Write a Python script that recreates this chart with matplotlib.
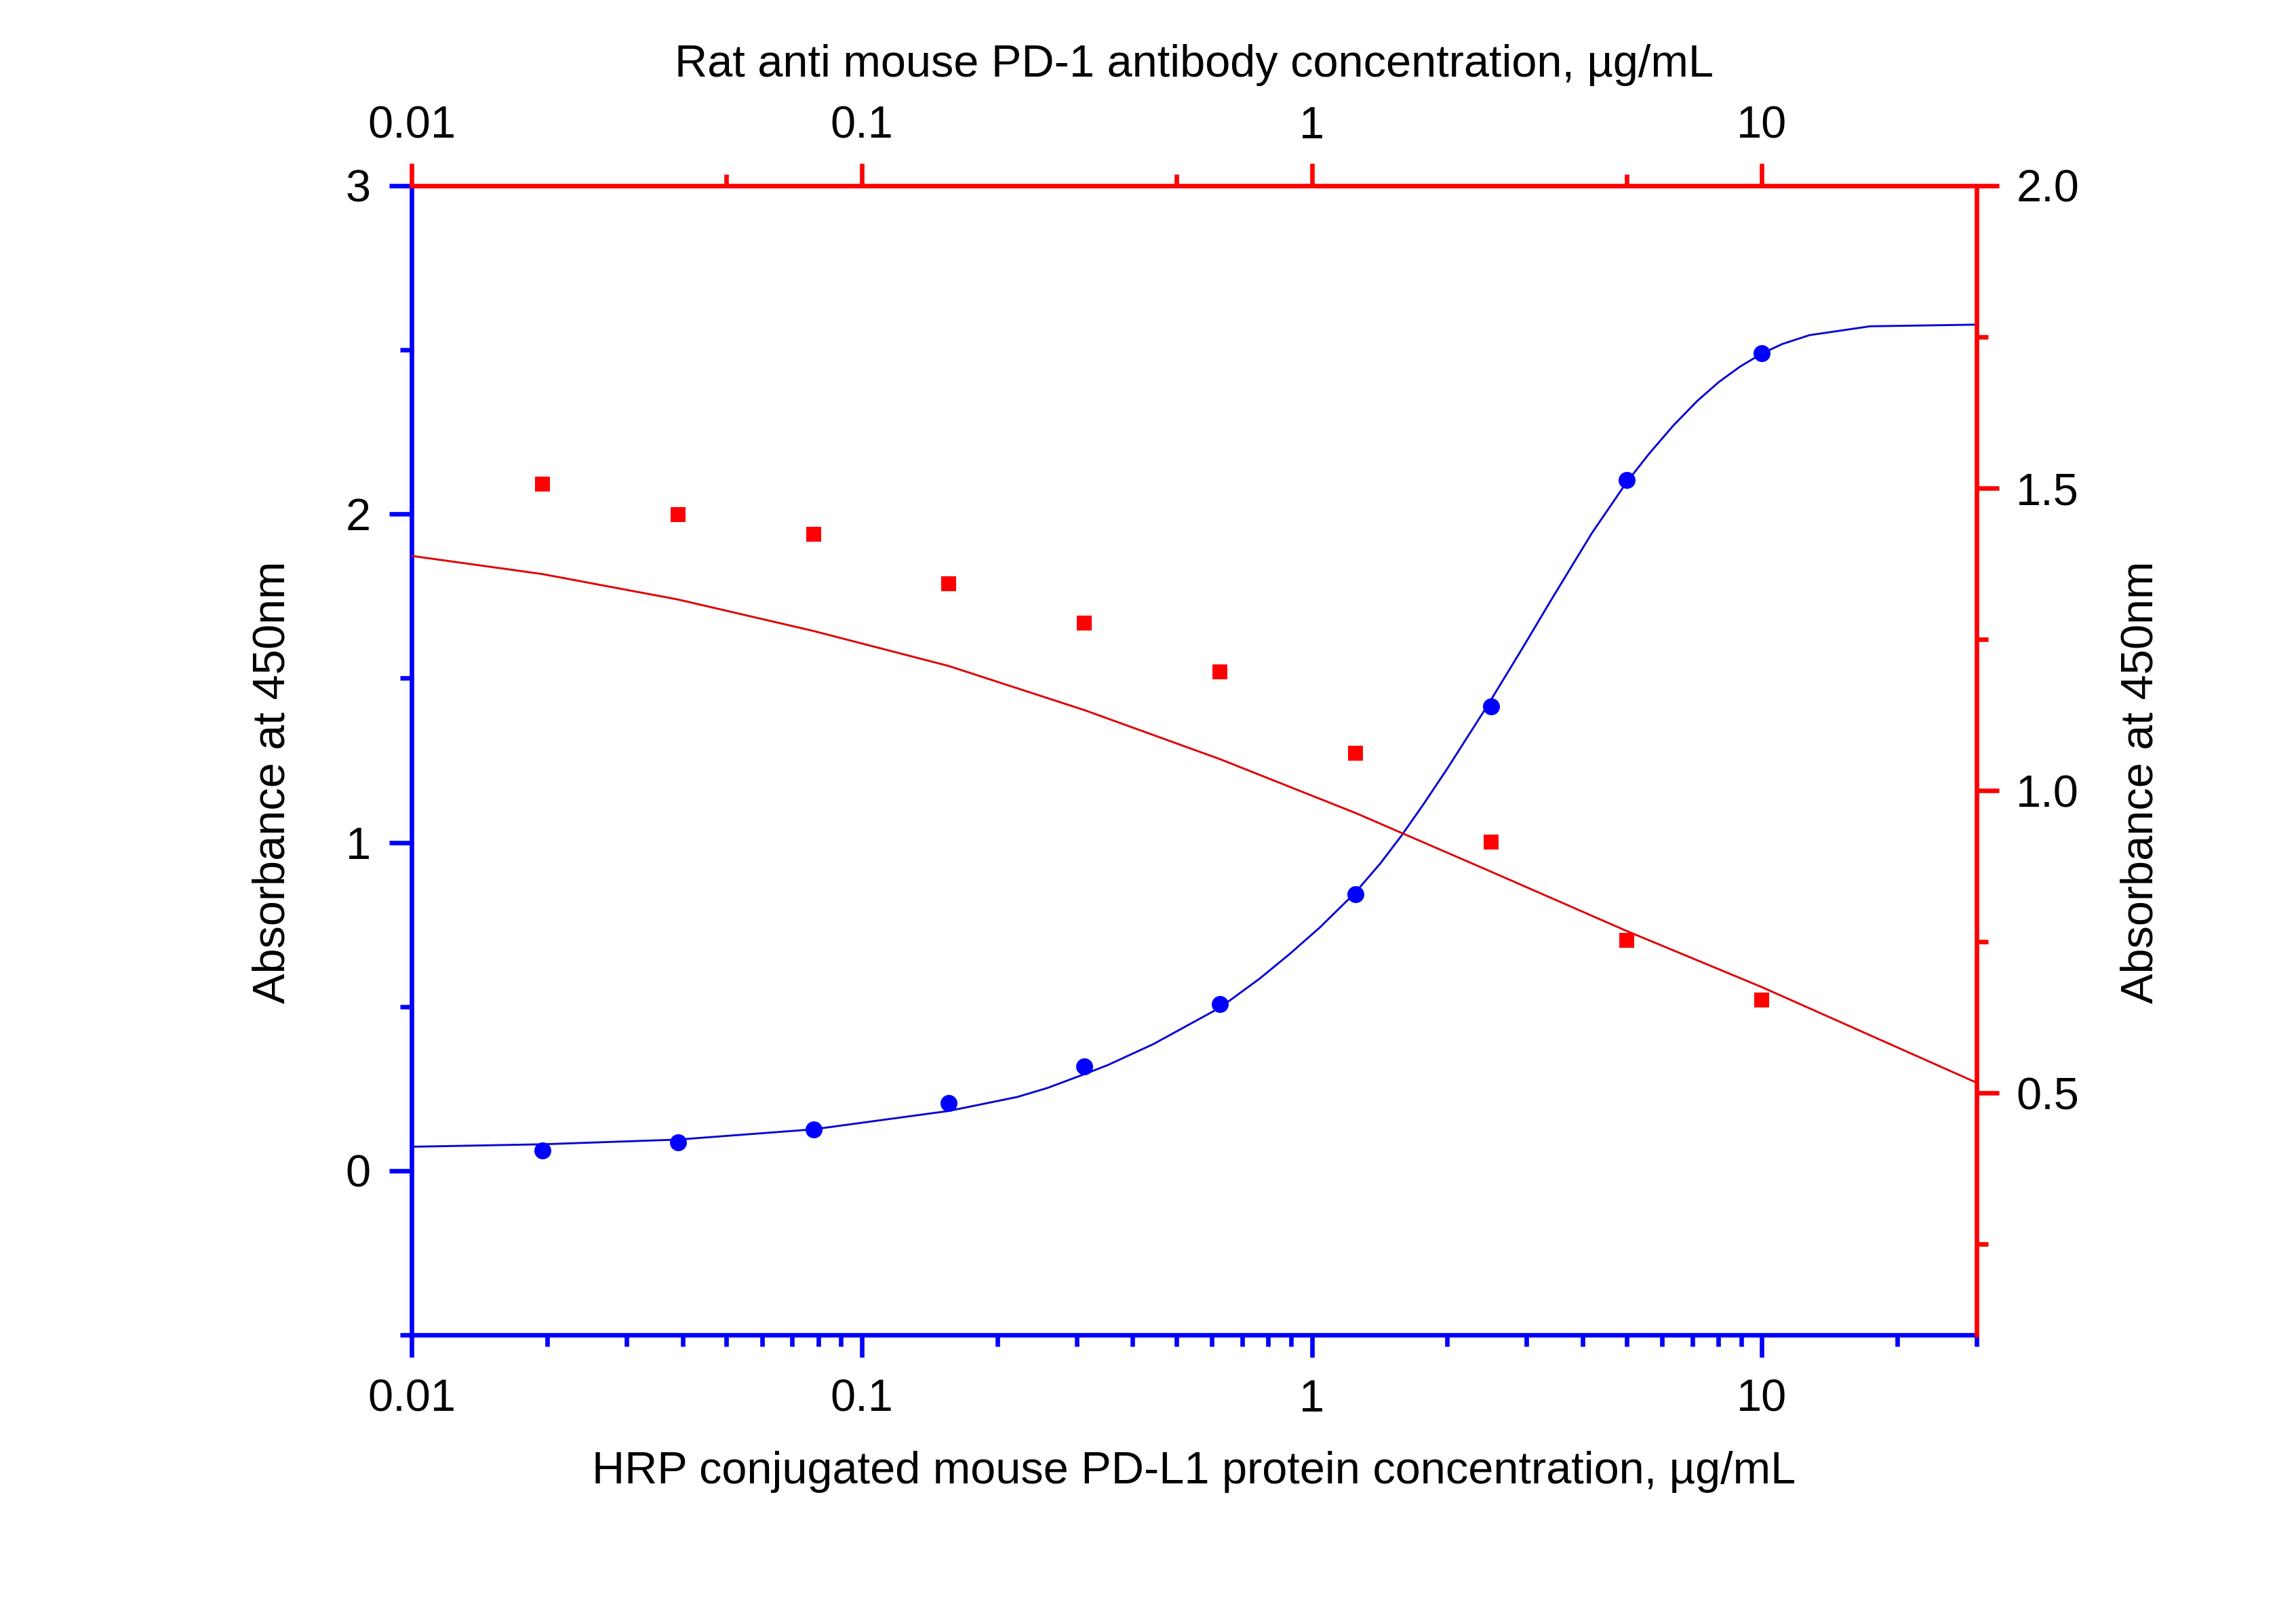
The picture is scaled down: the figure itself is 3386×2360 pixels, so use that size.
import matplotlib

matplotlib.use("Agg")
import matplotlib.pyplot as plt
from matplotlib.ticker import FixedLocator, FixedFormatter, LogLocator, NullFormatter

plt.rcParams["font.family"] = ["Liberation Sans", "DejaVu Sans"]

# two-fold dilution series, ug/mL
conc = [0.01953, 0.03906, 0.07813, 0.15625, 0.3125, 0.625, 1.25, 2.5, 5, 10]
pdl1_od = [0.062, 0.087, 0.126, 0.207, 0.318, 0.508, 0.843, 1.414, 2.103, 2.490]
pd1_od = [1.507, 1.456, 1.424, 1.342, 1.277, 1.196, 1.062, 0.915, 0.752, 0.654]

# fitted curves
pdl1_fit_x = [0.01, 0.0195, 0.039, 0.078, 0.156, 0.2214, 0.2585, 0.3117, 0.3524, 0.4446,
              0.6245, 0.764, 0.8926, 1.042, 1.245, 1.42, 1.583, 1.764, 1.996, 2.46,
              2.93, 3.422, 4.186, 5, 5.617, 6.36, 7.19, 8.02, 8.94, 10,
              11.1, 12.76, 17.4, 30]
pdl1_fit_y = [0.073, 0.0805, 0.0948, 0.126, 0.182, 0.2245, 0.252, 0.2936, 0.322, 0.3857,
              0.4964, 0.584, 0.660, 0.741, 0.845, 0.936, 1.021, 1.113, 1.223, 1.418,
              1.589, 1.744, 1.941, 2.096, 2.184, 2.270, 2.345, 2.402, 2.449, 2.489,
              2.518, 2.545, 2.572, 2.577]
pd1_fit_x = [0.01, 0.0195, 0.039, 0.078, 0.156, 0.3125, 0.625, 1.25, 2.5, 5, 10, 30]
pd1_fit_y = [1.388, 1.358, 1.316, 1.264, 1.206, 1.133, 1.052, 0.963, 0.866, 0.768, 0.675, 0.517]

x_major = [0.01, 0.1, 1, 10]
x_major_labels = ["0.01", "0.1", "1", "10"]
top_minor = [0.05, 0.5, 5]
left_major = [0, 1, 2, 3]
left_minor = [-0.5, 0.5, 1.5, 2.5]
right_major = [0.5, 1.0, 1.5, 2.0]
right_minor = [0.25, 0.75, 1.25, 1.75]

BLUE = "#0000ff"
BLUE_LINE = "#0808d0"
RED = "#ff0000"
RED_LINE = "#e00000"
FS = 16
LW = 1.6

fig = plt.figure(figsize=(3386 / 300, 2360 / 300), dpi=300)
ax = fig.add_axes([0.1793, 0.1657, 0.6816, 0.7182])
ax2 = ax.twinx()
ax_top = ax.twiny()

# bottom / left axis: PD-L1 binding
ax.set_xscale("log")
ax.set_xlim(0.01, 30)
ax.set_ylim(-0.5, 3)
ax.plot(pdl1_fit_x, pdl1_fit_y, "-", color=BLUE_LINE, linewidth=0.7, zorder=2)
ax.plot(conc, pdl1_od, "o", color=BLUE, markersize=6, markeredgewidth=0, zorder=3)
ax.xaxis.set_major_locator(FixedLocator(x_major))
ax.xaxis.set_major_formatter(FixedFormatter(x_major_labels))
ax.xaxis.set_minor_locator(LogLocator(base=10, subs=range(2, 10)))
ax.xaxis.set_minor_formatter(NullFormatter())
ax.yaxis.set_major_locator(FixedLocator(left_major))
ax.yaxis.set_major_formatter(FixedFormatter([str(v) for v in left_major]))
ax.yaxis.set_minor_locator(FixedLocator(left_minor))
for side in ["top", "right"]:
    ax.spines[side].set_visible(False)
for side in ["left", "bottom"]:
    ax.spines[side].set_color(BLUE)
    ax.spines[side].set_linewidth(LW)
ax.tick_params(axis="x", which="both", direction="out", color=BLUE, width=LW, labelsize=FS, pad=7.5)
ax.tick_params(axis="y", which="both", direction="out", color=BLUE, width=LW, labelsize=FS, pad=6.5)
ax.tick_params(which="major", length=8)
ax.tick_params(which="minor", length=4)

ax.set_xlabel("HRP conjugated mouse PD-L1 protein concentration, µg/mL", fontsize=FS, va="center")
ax.xaxis.set_label_coords(0.5, -0.119)
ax.set_ylabel("Absorbance at 450nm", fontsize=FS, va="center", ha="center")
ax.yaxis.set_label_coords(-0.0888, 0.481)

# right axis: PD-1 antibody signal
ax2.set_ylim(0.1, 2.0)
ax2.plot(pd1_fit_x, pd1_fit_y, "-", color=RED_LINE, linewidth=0.7, zorder=2)
ax2.plot(conc, pd1_od, "s", color=RED, markersize=5.3, markeredgewidth=0, zorder=3)
ax2.yaxis.set_major_locator(FixedLocator(right_major))
ax2.yaxis.set_major_formatter(FixedFormatter([f"{v:.1f}" for v in right_major]))
ax2.yaxis.set_minor_locator(FixedLocator(right_minor))
for side in ["top", "left", "bottom"]:
    ax2.spines[side].set_visible(False)
ax2.spines["right"].set_color(RED)
ax2.spines["right"].set_linewidth(LW)
ax2.tick_params(axis="y", which="both", direction="out", color=RED, width=LW, labelsize=FS, pad=6)
ax2.tick_params(axis="y", which="major", length=8)
ax2.tick_params(axis="y", which="minor", length=4)
ax2.set_ylabel("Absorbance at 450nm", fontsize=FS, va="center", ha="center")
ax2.yaxis.set_label_coords(1.105, 0.481)

# top axis: PD-1 antibody concentration
ax_top.set_xscale("log")
ax_top.set_xlim(0.01, 30)
ax_top.xaxis.set_major_locator(FixedLocator(x_major))
ax_top.xaxis.set_major_formatter(FixedFormatter(x_major_labels))
ax_top.xaxis.set_minor_locator(FixedLocator(top_minor))
ax_top.xaxis.set_minor_formatter(NullFormatter())
for side in ["right", "left", "bottom"]:
    ax_top.spines[side].set_visible(False)
ax_top.spines["top"].set_color(RED)
ax_top.spines["top"].set_linewidth(LW)
ax_top.tick_params(axis="x", which="both", direction="out", color=RED, width=LW, labelsize=FS, pad=5.5)
ax_top.tick_params(axis="x", which="major", length=8)
ax_top.tick_params(axis="x", which="minor", length=4)
ax_top.set_xlabel("Rat anti mouse PD-1 antibody concentration, µg/mL", fontsize=FS, va="center")
ax_top.xaxis.set_label_coords(0.5, 1.105)

fig.savefig("out.png", dpi=300)
